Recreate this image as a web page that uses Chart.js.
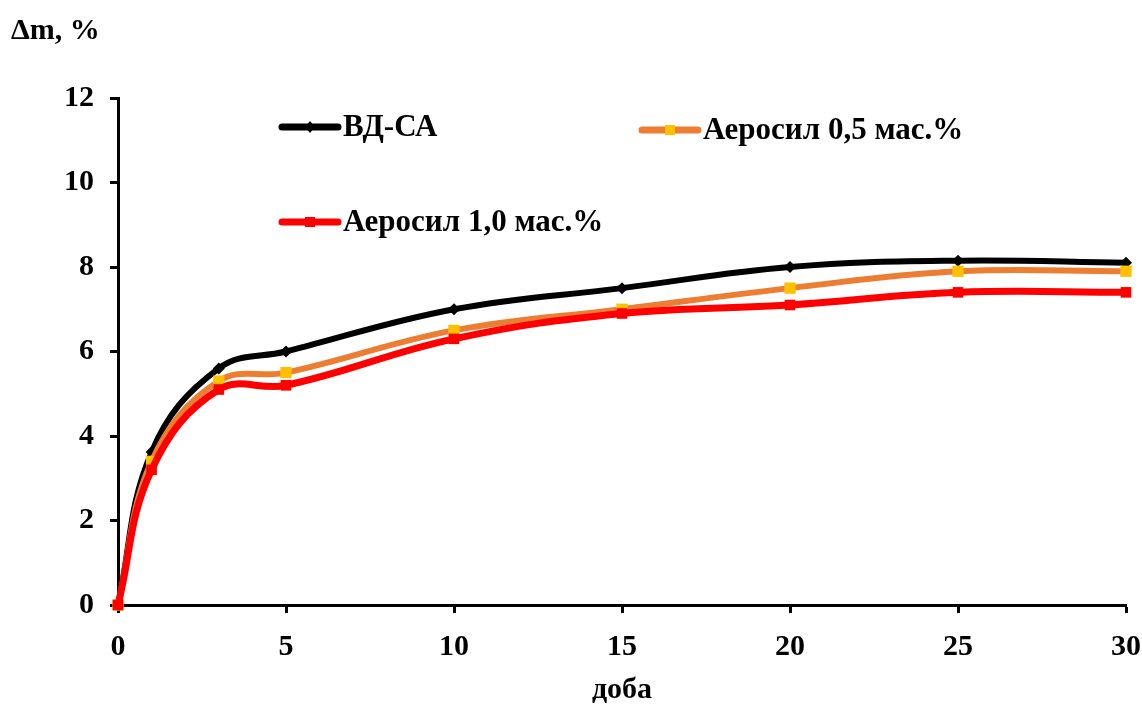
<!DOCTYPE html>
<html>
<head>
<meta charset="utf-8">
<script src="https://cdn.jsdelivr.net/npm/chart.js@4"></script>
<style>
  html, body { margin: 0; padding: 0; background: #fff; }
  #wrap { width: 1142px; height: 708px; }
</style>
</head>
<body>
<div id="wrap"><canvas id="myChart" width="1142" height="708"></canvas></div>
<script>
// days
const days = [0, 1, 3, 5, 10, 15, 20, 25, 30];
// mass change, %
const vdSa = [0, 3.62, 5.6, 6.0, 7.0, 7.5, 8.0, 8.15, 8.1];
const aerosil05 = [0, 3.4, 5.3, 5.5, 6.5, 7.0, 7.5, 7.9, 7.9];
const aerosil10 = [0, 3.2, 5.1, 5.2, 6.3, 6.9, 7.1, 7.4, 7.4];
const seriesNames = ["ВД-СА", "Аеросил 0,5 мас.%", "Аеросил 1,0 мас.%"];

const FONT = "'Liberation Serif', 'Times New Roman', serif";

function pts(ys) {
  return days.map((d, i) => ({ x: d, y: ys[i] }));
}

// legend is drawn inside the plot area like in the original
const legendPlugin = {
  id: "innerLegend",
  afterDraw(chart) {
    const ctx = chart.ctx;
    const items = [
      { x: 282, y: 127, color: "#000000", mark: "#000000", shape: "diamond", text: seriesNames[0], w: 7 },
      { x: 642, y: 130, color: "#ED7D31", mark: "#FFC000", shape: "square", text: seriesNames[1], w: 7 },
      { x: 282, y: 222, color: "#FF0000", mark: "#FF0000", shape: "square", text: seriesNames[2], w: 7 }
    ];
    ctx.save();
    items.forEach(it => {
      ctx.strokeStyle = it.color;
      ctx.lineWidth = it.w;
      ctx.lineCap = "round";
      ctx.beginPath();
      ctx.moveTo(it.x, it.y);
      ctx.lineTo(it.x + 56, it.y);
      ctx.stroke();
      ctx.fillStyle = it.mark;
      const cx = it.x + 28;
      if (it.shape === "diamond") {
        ctx.beginPath();
        ctx.moveTo(cx, it.y - 6);
        ctx.lineTo(cx + 5, it.y);
        ctx.lineTo(cx, it.y + 6);
        ctx.lineTo(cx - 5, it.y);
        ctx.closePath();
        ctx.fill();
      } else {
        ctx.fillRect(cx - 5, it.y - 5, 10, 10);
      }
      ctx.fillStyle = "#000";
      ctx.font = "bold 31px " + FONT;
      ctx.textAlign = "left";
      ctx.textBaseline = "middle";
      ctx.fillText(it.text, it.x + 61, it.y + 1);
    });
    // y axis title
    ctx.font = "bold 30px " + FONT;
    ctx.textBaseline = "alphabetic";
    ctx.fillText("Δm, %", 11, 39);
    ctx.restore();
  }
};

const ctx = document.getElementById("myChart").getContext("2d");
const chart = new Chart(ctx, {
  type: "line",
  data: {
    datasets: [
      {
        label: seriesNames[0],
        data: pts(vdSa),
        borderColor: "#000000",
        backgroundColor: "#000000",
        borderWidth: 6,
        pointStyle: "rectRot",
        pointRadius: 6,
        pointBorderWidth: 0,
        tension: 0.4,
        clip: false,
        order: 3
      },
      {
        label: seriesNames[1],
        data: pts(aerosil05),
        borderColor: "#ED7D31",
        backgroundColor: "#FFC000",
        borderWidth: 6,
        pointStyle: "rect",
        pointRadius: 8,
        pointBorderWidth: 0,
        tension: 0.4,
        clip: false,
        order: 2
      },
      {
        label: seriesNames[2],
        data: pts(aerosil10),
        borderColor: "#FF0000",
        backgroundColor: "#FF0000",
        borderWidth: 7,
        pointStyle: "rect",
        pointRadius: 7.5,
        pointBorderWidth: 0,
        tension: 0.4,
        clip: false,
        order: 1
      }
    ]
  },
  options: {
    responsive: false,
    animation: false,
    layout: { padding: { left: 0, top: 98, right: 16, bottom: 0 } },
    plugins: {
      legend: { display: false },
      tooltip: { enabled: false }
    },
    scales: {
      x: {
        type: "linear",
        min: 0,
        max: 30,
        afterFit(scale) {
          scale.height = 103;
          scale.paddingLeft = 0;
          scale.paddingRight = 0;
        },
        ticks: {
          stepSize: 5,
          color: "#000",
          padding: 16,
          font: { family: FONT, size: 30, weight: "bold" }
        },
        grid: {
          drawOnChartArea: false,
          drawTicks: true,
          tickLength: 8,
          tickWidth: 3,
          tickColor: "#000"
        },
        border: { display: true, color: "#000", width: 3 },
        title: {
          display: true,
          text: "доба",
          color: "#000",
          padding: { top: 8, bottom: 0 },
          font: { family: FONT, size: 30, weight: "bold" }
        }
      },
      y: {
        min: 0,
        max: 12,
        afterFit(scale) {
          scale.width = 118;
          scale.paddingTop = 0;
          scale.paddingBottom = 0;
        },
        ticks: {
          stepSize: 2,
          color: "#000",
          padding: 16,
          font: { family: FONT, size: 30, weight: "bold" }
        },
        grid: {
          drawOnChartArea: false,
          drawTicks: true,
          tickLength: 8,
          tickWidth: 3,
          tickColor: "#000"
        },
        border: { display: true, color: "#000", width: 3 }
      }
    }
  },
  plugins: [legendPlugin]
});
</script>
</body>
</html>
